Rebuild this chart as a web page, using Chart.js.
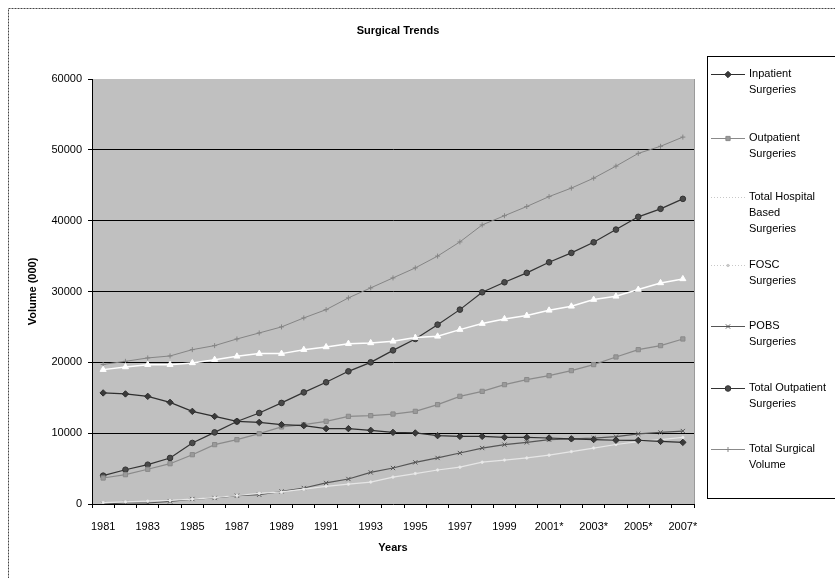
<!DOCTYPE html>
<html>
<head>
<meta charset="utf-8">
<script src="https://cdn.jsdelivr.net/npm/chart.js@4"></script>
<style>
html,body{margin:0;padding:0;background:#fff;}
#wrap{position:relative;width:835px;height:578px;}
</style>
</head>
<body>
<div id="wrap"><canvas id="c" width="835" height="578"></canvas></div>
<script>
const years = ['1981','1982','1983','1984','1985','1986','1987','1988','1989','1990','1991','1992','1993','1994','1995','1996','1997','1998','1999','2000','2001*','2002*','2003*','2004*','2005*','2006*','2007*'];
const inpatient = [15680,15540,15200,14350,13080,12370,11670,11530,11200,11060,10640,10640,10400,10110,10030,9650,9550,9550,9410,9410,9320,9200,9100,9000,8980,8840,8700];
const outpatient = [3670,4140,4900,5690,6960,8380,9080,9930,10880,11200,11670,12370,12470,12700,13080,14030,15200,15900,16850,17560,18120,18830,19680,20760,21790,22360,23300];
const totalHospital = [18970,19350,19670,19670,19920,20380,20850,21230,21230,21790,22170,22640,22740,22970,23490,23670,24620,25470,26130,26600,27340,27910,28860,29320,30270,31210,31780];
const fosc = [200,300,400,500,700,900,1200,1500,1700,2100,2500,2800,3100,3800,4300,4800,5200,5900,6200,6500,6900,7400,7900,8400,8800,9100,9400];
const pobs = [0,140,140,370,700,850,1170,1310,1780,2260,2970,3530,4460,5080,5880,6500,7200,7900,8380,8700,9080,9200,9300,9500,9900,10100,10300];
const totalOutpatient = [4000,4840,5550,6500,8620,10110,11650,12850,14270,15760,17180,18730,20000,21690,23300,25320,27440,29890,31300,32630,34120,35450,36950,38740,40540,41670,43080];
const totalSurgical = [19700,20140,20620,20900,21790,22360,23300,24150,25000,26270,27440,29100,30510,31920,33330,35000,37000,39400,40700,42000,43400,44600,46000,47700,49500,50500,51800];

const legendLabels = [
  ['Inpatient','Surgeries'],
  ['Outpatient','Surgeries'],
  ['Total Hospital','Based','Surgeries'],
  ['FOSC','Surgeries'],
  ['POBS','Surgeries'],
  ['Total Outpatient','Surgeries'],
  ['Total Surgical','Volume']
];
const legendLineColors = ['#2e2e2e','#8a8a8a','#c8c8c8','#c8c8c8','#555555','#333333','#8a8a8a'];

const FONT = '"Liberation Sans", Arial, sans-serif';

function ds(label, data, color, pstyle, radius, fill, bw){
  return {label, data, borderColor: color, backgroundColor: fill, borderWidth: bw,
    pointStyle: pstyle, pointRadius: radius, pointBorderColor: color, pointBackgroundColor: fill,
    pointBorderWidth: 1, tension: 0, fill: false};
}

const datasets = [
  ds('Inpatient Surgeries', inpatient, '#2e2e2e', 'rectRot', 3.2, '#3a3a3a', 1.2),
  ds('Outpatient Surgeries', outpatient, '#8a8a8a', 'rect', 3, '#9a9a9a', 1.2),
  ds('Total Hospital Based Surgeries', totalHospital, '#ffffff', 'triangle', 3.5, '#ffffff', 1.5),
  ds('FOSC Surgeries', fosc, '#e6e6e6', 'circle', 1.2, '#eeeeee', 1.2),
  ds('POBS Surgeries', pobs, '#555555', 'crossRot', 3, '#555555', 1.2),
  ds('Total Outpatient Surgeries', totalOutpatient, '#333333', 'circle', 2.8, '#4a4a4a', 1.2),
  ds('Total Surgical Volume', totalSurgical, '#858585', 'cross', 2.5, '#858585', 1)
];

const deco = {
  id: 'deco',
  beforeDraw(chart){
    const ctx = chart.ctx, a = chart.chartArea;
    ctx.save();
    ctx.fillStyle = '#fff';
    ctx.fillRect(0,0,chart.width,chart.height);
    ctx.fillStyle = '#c0c0c0';
    ctx.fillRect(a.left, a.top, a.right-a.left, a.bottom-a.top);
    ctx.strokeStyle = '#9a9a9a';
    ctx.lineWidth = 1;
    ctx.beginPath();
    ctx.moveTo(a.right+0.5, a.top);
    ctx.lineTo(a.right+0.5, a.bottom);
    ctx.stroke();
    ctx.restore();
  },
  afterDraw(chart){
    const ctx = chart.ctx, a = chart.chartArea;
    ctx.save();
    ctx.strokeStyle = '#444';
    ctx.lineWidth = 1;
    ctx.setLineDash([2,1]);
    ctx.strokeRect(8.5, 8.5, 840, 600);
    ctx.setLineDash([]);
    ctx.fillStyle = '#000';
    ctx.textAlign = 'center';
    ctx.textBaseline = 'middle';
    ctx.font = 'bold 11px ' + FONT;
    ctx.fillText('Surgical Trends', 398, 31);
    ctx.fillText('Years', (a.left+a.right)/2, 548);
    ctx.save();
    ctx.translate(33, (a.top+a.bottom)/2);
    ctx.rotate(-Math.PI/2);
    ctx.fillText('Volume (000)', 0, 0);
    ctx.restore();
    ctx.strokeStyle = '#000';
    ctx.lineWidth = 1;
    ctx.strokeRect(707.5, 56.5, 140, 442);
    const starts = [74, 138, 197, 265, 326, 388, 449];
    ctx.font = '11px ' + FONT;
    ctx.textAlign = 'left';
    legendLabels.forEach((lines, i) => {
      const d = chart.data.datasets[i];
      const y = starts[i];
      ctx.strokeStyle = legendLineColors[i];
      ctx.lineWidth = 1;
      if (i === 2 || i === 3) ctx.setLineDash([1,2]); else ctx.setLineDash([]);
      ctx.beginPath();
      ctx.moveTo(711, y+0.5);
      ctx.lineTo(745, y+0.5);
      ctx.stroke();
      ctx.setLineDash([]);
      if (i !== 2) {
        ctx.fillStyle = i === 3 ? '#c8c8c8' : d.pointBackgroundColor;
        ctx.strokeStyle = i === 3 ? '#c8c8c8' : d.pointBorderColor;
        ctx.lineWidth = 1;
        Chart.helpers.drawPoint(ctx, {pointStyle: d.pointStyle, radius: d.pointRadius, borderWidth: 1, rotation: 0}, 728, y+0.5);
      }
      ctx.fillStyle = '#000';
      lines.forEach((t, k) => ctx.fillText(t, 749, y + k*16));
    });
    ctx.restore();
  }
};

new Chart(document.getElementById('c'), {
  type: 'line',
  data: { labels: years, datasets },
  options: {
    responsive: false,
    animation: false,
    devicePixelRatio: 1,
    layout: { padding: { left: 8, right: 141, top: 79, bottom: 0 } },
    plugins: { legend: { display: false }, title: { display: false }, tooltip: { enabled: false } },
    scales: {
      x: {
        type: 'category',
        offset: true,
        grid: { display: true, offset: true, drawOnChartArea: false, drawTicks: true, tickLength: 4, color: '#000', tickColor: '#000' },
        border: { display: true, color: '#000', width: 1 },
        ticks: {
          autoSkip: false, maxRotation: 0, minRotation: 0, padding: 12,
          color: '#000', font: { family: FONT, size: 11 },
          callback: function(v, i){ return i % 2 === 0 ? this.getLabelForValue(v) : ''; }
        },
        afterFit: s => { s.height = 74; }
      },
      y: {
        min: 0, max: 60000,
        ticks: { stepSize: 10000, color: '#000', padding: 6, font: { family: FONT, size: 11 }, callback: v => String(v) },
        grid: {
          drawTicks: true, tickLength: 4, tickColor: '#000', lineWidth: 1,
          color: ctx => (ctx.tick && (ctx.tick.value === 60000 || ctx.tick.value === 0)) ? 'rgba(0,0,0,0)' : '#000'
        },
        border: { display: true, color: '#000', width: 1 },
        afterFit: s => { s.width = 84; }
      }
    }
  },
  plugins: [deco]
});
</script>
</body>
</html>
